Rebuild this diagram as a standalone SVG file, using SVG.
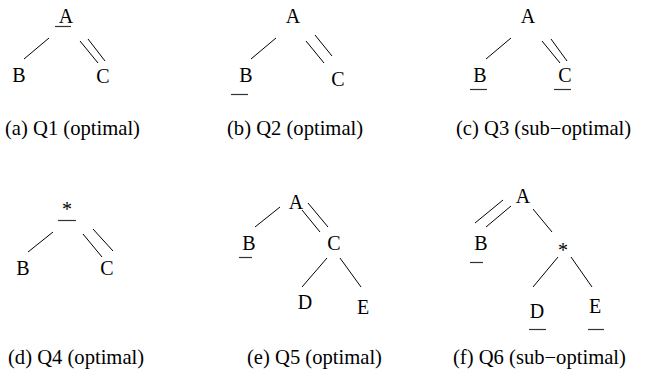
<svg xmlns="http://www.w3.org/2000/svg" width="647" height="373" viewBox="0 0 647 373" font-family="'Liberation Serif', Tinos, 'Times New Roman', Times, 'Nimbus Roman', 'DejaVu Serif', serif">
<style>
text{font-family:"Liberation Serif",Tinos,"Times New Roman",Times,"Nimbus Roman","DejaVu Serif",serif;font-size:20px;fill:#000}
.n{text-anchor:middle}
.cap{font-size:20.6px}
line{stroke:#000;stroke-width:1}
.u{stroke:#333;stroke-width:1.2}
</style>
<rect width="647" height="373" fill="#fff"/>
<g id="panel-a">
<g id="a-A"><text class="n" x="66" y="23">A</text><line class="u" x1="55" y1="26.5" x2="71" y2="26.5"/></g>
<g id="a-B"><text class="n" x="19" y="82">B</text></g>
<g id="a-C"><text class="n" x="103" y="83">C</text></g>
<g id="a-edges"><line x1="49" y1="38" x2="24" y2="59"/><line x1="80" y1="41" x2="98" y2="63"/><line x1="88" y1="39" x2="105" y2="61"/></g>
<text id="cap-a" class="cap" x="5" y="135">(a) Q1 (optimal)</text>
</g>
<g id="panel-b">
<g id="b-A"><text class="n" x="293" y="23">A</text></g>
<g id="b-B"><text class="n" x="246" y="82">B</text><line class="u" x1="231" y1="94.5" x2="248" y2="94.5"/></g>
<g id="b-C"><text class="n" x="338" y="86">C</text></g>
<g id="b-edges"><line x1="276" y1="38" x2="251" y2="59"/><line x1="306" y1="41" x2="324" y2="63"/><line x1="315" y1="35" x2="332" y2="56"/></g>
<text id="cap-b" class="cap" x="227" y="135">(b) Q2 (optimal)</text>
</g>
<g id="panel-c">
<g id="c-A"><text class="n" x="528" y="23">A</text></g>
<g id="c-B"><text class="n" x="480" y="82">B</text><line class="u" x1="470" y1="89.5" x2="487" y2="89.5"/></g>
<g id="c-C"><text class="n" x="565" y="82">C</text><line class="u" x1="554" y1="89.5" x2="571" y2="89.5"/></g>
<g id="c-edges"><line x1="511" y1="38" x2="486" y2="59"/><line x1="542" y1="41" x2="560" y2="63"/><line x1="551" y1="39" x2="567" y2="61"/></g>
<text id="cap-c" class="cap" x="456" y="135">(c) Q3 (sub−optimal)</text>
</g>
<g id="panel-d">
<g id="d-star"><text class="n" x="67" y="216">*</text><line class="u" x1="58" y1="220.5" x2="76" y2="220.5"/></g>
<g id="d-B"><text class="n" x="23" y="275">B</text></g>
<g id="d-C"><text class="n" x="107" y="275">C</text></g>
<g id="d-edges"><line x1="53" y1="232" x2="28" y2="252"/><line x1="83" y1="234" x2="102" y2="257"/><line x1="93" y1="229" x2="113" y2="251"/></g>
<text id="cap-d" class="cap" x="8" y="364">(d) Q4 (optimal)</text>
</g>
<g id="panel-e">
<g id="e-A"><text class="n" x="296" y="209">A</text></g>
<g id="e-B"><text class="n" x="249" y="250">B</text><line class="u" x1="239" y1="257.5" x2="252" y2="257.5"/></g>
<g id="e-C"><text class="n" x="334" y="250">C</text></g>
<g id="e-D"><text class="n" x="305" y="309">D</text></g>
<g id="e-E"><text class="n" x="363" y="314">E</text></g>
<g id="e-edges"><line x1="280" y1="207" x2="255" y2="227"/><line x1="302" y1="210" x2="320" y2="232"/><line x1="308" y1="203" x2="328" y2="227"/><line x1="327" y1="258" x2="302" y2="287"/><line x1="340" y1="258" x2="361" y2="287"/></g>
<text id="cap-e" class="cap" x="247" y="364">(e) Q5 (optimal)</text>
</g>
<g id="panel-f">
<g id="f-A"><text class="n" x="523" y="203">A</text></g>
<g id="f-B"><text class="n" x="481" y="250">B</text><line class="u" x1="470" y1="262.5" x2="483" y2="262.5"/></g>
<g id="f-star"><text class="n" x="563" y="257">*</text></g>
<g id="f-D"><text class="n" x="537" y="318">D</text><line class="u" x1="529" y1="329.5" x2="546" y2="329.5"/></g>
<g id="f-E"><text class="n" x="595" y="313">E</text><line class="u" x1="588" y1="329.5" x2="604" y2="329.5"/></g>
<g id="f-edges"><line x1="503" y1="200" x2="475" y2="223"/><line x1="511" y1="206" x2="486" y2="227"/><line x1="533" y1="209" x2="552" y2="232"/><line x1="558" y1="257" x2="533" y2="287"/><line x1="571" y1="257" x2="592" y2="287"/></g>
<text id="cap-f" class="cap" x="453" y="364">(f) Q6 (sub−optimal)</text>
</g>
</svg>
